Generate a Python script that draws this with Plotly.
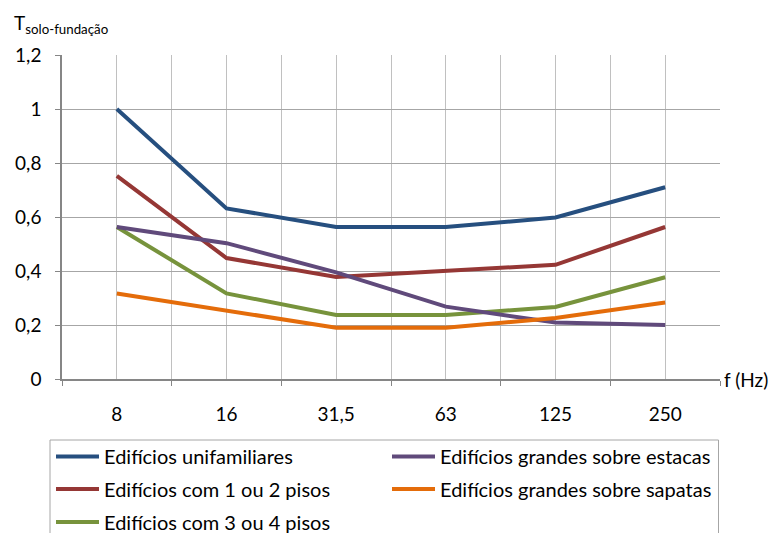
import plotly.graph_objects as go

# -------------------------------
# dados
# -------------------------------
freqs = ["8", "16", "31,5", "63", "125", "250"]

unifamiliares = [1.0, 0.632, 0.563, 0.563, 0.598, 0.71]
pisos_1_2 = [0.752, 0.448, 0.378, 0.40, 0.423, 0.563]
pisos_3_4 = [0.563, 0.317, 0.237, 0.237, 0.267, 0.377]
estacas = [0.563, 0.503, 0.395, 0.268, 0.209, 0.20]
sapatas = [0.317, 0.252, 0.19, 0.19, 0.226, 0.283]

series = [
    # nome, valores, cor, legenda (linha da caixa)
    ("Edifícios unifamiliares", unifamiliares, "#264F7F", "legend"),
    ("Edifícios com 1 ou 2 pisos", pisos_1_2, "#953735", "legend2"),
    ("Edifícios com 3 ou 4 pisos", pisos_3_4, "#77933C", "legend3"),
    ("Edifícios grandes sobre estacas", estacas, "#604A7B", "legend"),
    ("Edifícios grandes sobre sapatas", sapatas, "#E46C0A", "legend2"),
]

FONT = "Lato, 'Open Sans', sans-serif"
W, H = 771, 533
L, R, T, B = 62, 51, 55, 154
PW, PH = W - L - R, H - T - B


def px_x(p):
    return (p - L) / PW


def px_y(p):
    return (H - B - p) / PH


idx = list(range(len(freqs)))

fig = go.Figure()
for name, vals, color, leg in series:
    fig.add_trace(go.Scatter(x=idx, y=vals, mode="lines", name=name,
                             line=dict(color=color, width=4),
                             legend=leg))

# uma legenda por linha da caixa (espaçamento igual ao original)
legend_common = dict(orientation="h", xanchor="left", yanchor="middle",
                     entrywidth=278, entrywidthmode="pixels", itemwidth=43,
                     borderwidth=0, bgcolor="rgba(0,0,0,0)",
                     font=dict(family=FONT, size=20))
leg_x = px_x(51)
fig.update_layout(
    width=W, height=H,
    margin=dict(l=L, r=R, t=T, b=B, autoexpand=False),
    plot_bgcolor="white", paper_bgcolor="white",
    separators=", ",
    font=dict(family=FONT, size=19, color="#000000"),
    showlegend=True,
    legend=dict(x=leg_x, y=px_y(456.5), **legend_common),
    legend2=dict(x=leg_x, y=px_y(489), **legend_common),
    legend3=dict(x=leg_x, y=px_y(522), **legend_common),
)

# moldura da legenda (cortada em baixo, como no original)
fig.add_shape(type="rect", xref="paper", yref="paper",
              x0=px_x(50), x1=px_x(718.5), y0=px_y(440), y1=px_y(575),
              line=dict(color="#a6a6a6", width=1), fillcolor="rgba(0,0,0,0)")

fig.update_xaxes(
    range=[-0.5, len(freqs) - 0.5],
    tickvals=idx, ticktext=freqs, ticks="",
    ticklabelstandoff=17,
    showgrid=True, gridcolor="#c0c0c0", gridwidth=1,
    showline=True, linecolor="#868686", linewidth=1.5,
    zeroline=False,
    minor=dict(tickvals=[i - 0.5 for i in range(len(freqs) + 1)],
               ticks="outside", ticklen=5, tickcolor="#868686",
               showgrid=True, gridcolor="#c0c0c0", gridwidth=1),
)
fig.update_yaxes(
    range=[0, 1.2], dtick=0.2,
    ticks="outside", ticklen=5, tickcolor="#868686",
    ticklabelstandoff=10,
    showgrid=True, gridcolor="#a6a6a6", gridwidth=1,
    showline=True, linecolor="#868686", linewidth=1.5,
    zeroline=False,
)

fig.add_annotation(text="T<sub>solo-fundação</sub>", xref="paper", yref="paper",
                   x=px_x(12), y=px_y(24),
                   xanchor="left", yanchor="middle", showarrow=False,
                   font=dict(family=FONT, size=19))
fig.add_annotation(text="f (Hz)", xref="paper", yref="paper",
                   x=px_x(722), y=0, xanchor="left", yanchor="middle",
                   showarrow=False, font=dict(family=FONT, size=19))

fig.write_html("out.html", config={"displayModeBar": False},
               post_script="document.body.style.margin = '0';")
